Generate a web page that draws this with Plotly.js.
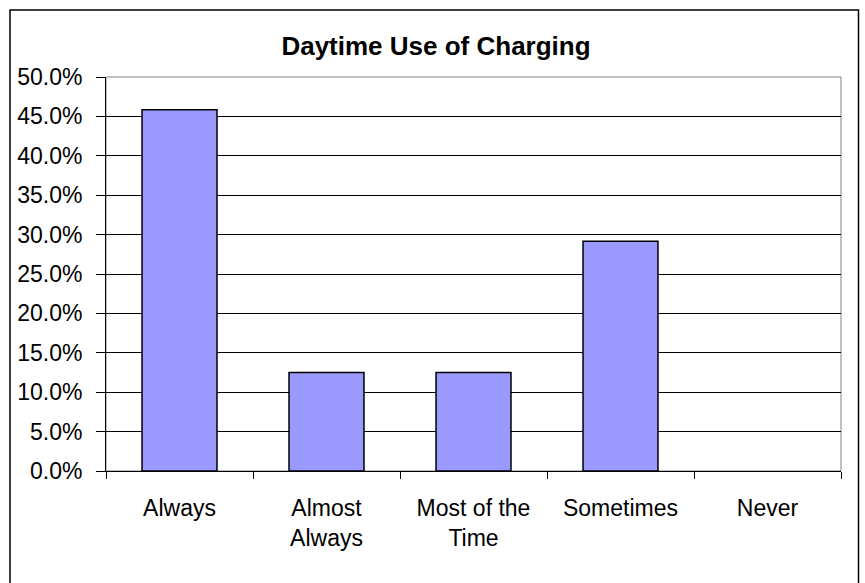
<!DOCTYPE html>
<html>
<head>
<meta charset="utf-8">
<script src="https://cdn.plot.ly/plotly-3.0.1.min.js"></script>
<style>
  html, body { margin: 0; padding: 0; background: #fff; }
  #chart { width: 865px; height: 583px; }
</style>
</head>
<body>
<div id="chart"></div>
<script>
const categories = ["Always", "Almost<br>Always", "Most of the<br>Time", "Sometimes", "Never"];
const shares = [0.4583, 0.125, 0.125, 0.2917, 0];
const chartTitle = "Daytime Use of Charging";

const trace = {
  type: "bar",
  x: categories,
  y: shares,
  marker: {
    color: "#9999FF",
    line: { color: "#000000", width: shares.map(v => v > 0 ? 1.5 : 0) }
  },
  hoverinfo: "skip"
};

const W = 865, H = 583;
const m = { l: 106, r: 24, t: 77, b: 112 };
const pw = W - m.l - m.r, ph = H - m.t - m.b;
// outer chart frame in paper coordinates
const fx0 = (10 - m.l) / pw, fx1 = (858.5 - m.l) / pw;
const fy1 = (H - m.b - 10) / ph, fy0 = (H - m.b - 584) / ph;

const layout = {
  width: W, height: H,
  margin: m,
  paper_bgcolor: "#ffffff",
  plot_bgcolor: "#ffffff",
  font: { family: "Liberation Sans, Arial, sans-serif", size: 23, color: "#000" },
  title: {
    text: "<b>" + chartTitle + "</b>",
    font: { size: 26, color: "#000" },
    x: (436 - m.l) / pw, xanchor: "center", xref: "paper",
    y: 0.922, yanchor: "middle", yref: "container"
  },
  bargap: 0.49,
  showlegend: false,
  xaxis: {
    type: "category",
    tickson: "boundaries",
    ticks: "outside", ticklen: 7, tickwidth: 1, tickcolor: "#000",
    showline: true, linecolor: "#000", linewidth: 1,
    showgrid: false,
    ticklabelstandoff: 16,
    tickfont: { size: 23 },
    fixedrange: true
  },
  yaxis: {
    range: [0, 0.5],
    dtick: 0.05, tick0: 0,
    tickformat: ".1%",
    ticks: "outside", ticklen: 9, tickwidth: 1, tickcolor: "#000",
    showline: true, linecolor: "#000", linewidth: 1,
    showgrid: true, gridcolor: "#000", gridwidth: 1,
    zeroline: false,
    ticklabelstandoff: 9,
    tickfont: { size: 23 },
    fixedrange: true
  },
  shapes: [
    { type: "rect", xref: "paper", yref: "paper", x0: 0, x1: 1, y0: 0, y1: 1,
      line: { color: "#808080", width: 1 }, fillcolor: "rgba(0,0,0,0)", layer: "below" },
    { type: "rect", xref: "paper", yref: "paper", x0: fx0, x1: fx1, y0: fy0, y1: fy1,
      line: { color: "#000", width: 1.5 }, fillcolor: "rgba(0,0,0,0)" }
  ]
};

Plotly.newPlot("chart", [trace], layout, { staticPlot: true, displayModeBar: false });
</script>
</body>
</html>
